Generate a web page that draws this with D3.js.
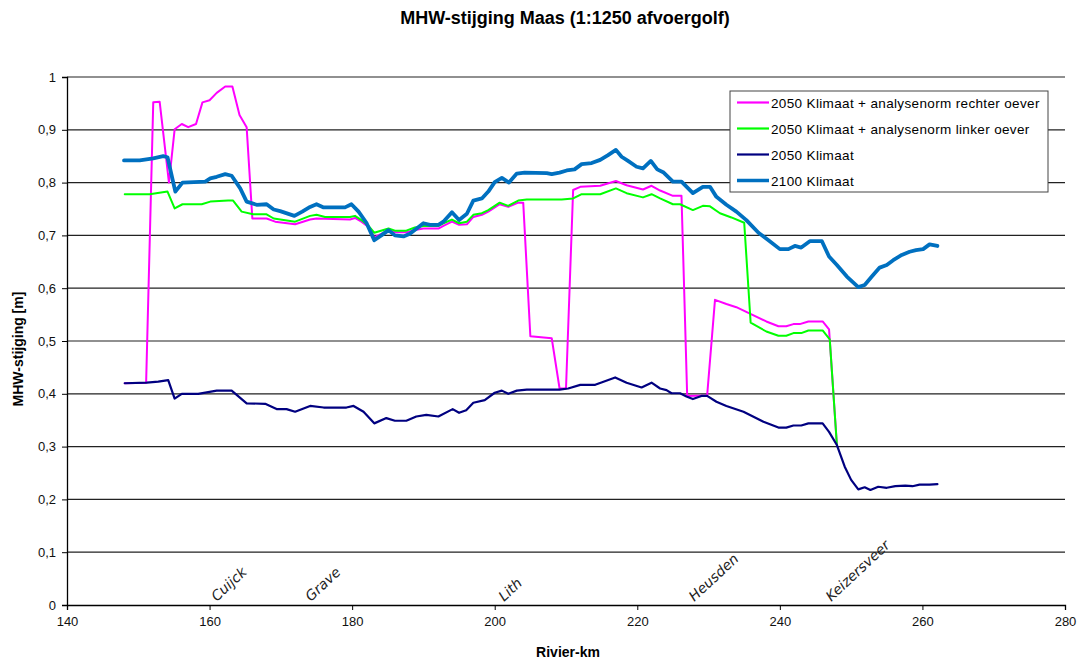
<!DOCTYPE html>
<html>
<head>
<meta charset="utf-8">
<script src="https://cdn.jsdelivr.net/npm/d3@7"></script>
<style>
  html, body { margin: 0; padding: 0; background: #fff; }
  svg { display: block; font-family: "Liberation Sans", Arial, sans-serif; }
</style>
</head>
<body>
<svg id="chart" width="1084" height="660"></svg>
<script>
// River kilometres and MHW rise (m) per scenario
const rechterKm = [148.1, 151.1, 152.1, 153.0, 154.3, 155.1, 156.1, 157.0, 158.1, 159.0, 160.0, 161.0, 162.2, 163.2, 164.2, 165.2, 166.0, 168.0, 169.2, 172.0, 174.1, 175.0, 179.7, 180.4, 181.3, 182.3, 183.1, 185.1, 186.0, 187.6, 188.8, 190.0, 192.1, 192.8, 194.0, 195.0, 196.1, 197.0, 198.2, 199.1, 200.7, 201.9, 203.3, 204.0, 205.0, 208.0, 209.1, 210.0, 211.0, 212.0, 214.8, 217.0, 218.5, 220.8, 222.0, 223.2, 225.0, 226.2, 227.0, 229.8, 230.9, 232.5, 233.9, 235.8, 238.1, 239.8, 240.9, 241.9, 242.8, 244.0, 246.0, 246.9, 248.0];
const rechterOever = [0.420, 0.421, 0.952, 0.953, 0.800, 0.901, 0.911, 0.905, 0.911, 0.952, 0.956, 0.970, 0.982, 0.982, 0.928, 0.905, 0.732, 0.732, 0.726, 0.721, 0.730, 0.732, 0.730, 0.733, 0.726, 0.716, 0.696, 0.710, 0.706, 0.706, 0.710, 0.713, 0.713, 0.718, 0.726, 0.720, 0.721, 0.735, 0.739, 0.745, 0.759, 0.754, 0.762, 0.762, 0.509, 0.505, 0.410, 0.410, 0.786, 0.792, 0.794, 0.803, 0.795, 0.787, 0.794, 0.785, 0.775, 0.775, 0.396, 0.397, 0.578, 0.570, 0.564, 0.552, 0.537, 0.528, 0.528, 0.532, 0.532, 0.537, 0.537, 0.522, 0.303];

const linkerKm = [148.1, 151.6, 154.1, 155.1, 156.2, 158.9, 160.1, 162.6, 163.3, 164.5, 166.1, 168.0, 169.0, 172.0, 174.1, 175.0, 176.2, 179.7, 180.4, 181.3, 182.3, 183.1, 185.1, 186.0, 187.6, 188.8, 190.0, 192.1, 192.8, 194.0, 195.0, 196.1, 197.0, 198.2, 199.1, 200.7, 201.9, 203.3, 204.5, 209.4, 211.0, 212.2, 214.8, 217.0, 218.5, 220.8, 222.0, 223.2, 225.0, 226.0, 227.8, 229.2, 230.2, 231.6, 233.2, 235.0, 235.9, 238.1, 239.8, 240.9, 241.9, 243.0, 244.0, 246.0, 247.0, 248.0];
const linkerOever = [0.778, 0.778, 0.783, 0.751, 0.759, 0.759, 0.764, 0.766, 0.766, 0.745, 0.740, 0.740, 0.732, 0.726, 0.737, 0.739, 0.735, 0.735, 0.737, 0.729, 0.718, 0.705, 0.713, 0.709, 0.709, 0.715, 0.718, 0.718, 0.723, 0.730, 0.723, 0.726, 0.739, 0.742, 0.748, 0.762, 0.756, 0.766, 0.768, 0.768, 0.770, 0.778, 0.778, 0.789, 0.780, 0.772, 0.778, 0.770, 0.759, 0.759, 0.748, 0.756, 0.755, 0.742, 0.734, 0.724, 0.535, 0.518, 0.510, 0.510, 0.515, 0.515, 0.520, 0.520, 0.503, 0.303];

const klimaat2050Km = [148.1, 151.2, 152.8, 154.2, 155.1, 156.1, 158.4, 161.0, 163.1, 165.2, 167.8, 169.4, 170.8, 172.0, 174.1, 176.0, 179.2, 180.2, 181.6, 183.1, 184.8, 186.0, 187.6, 189.0, 190.4, 192.1, 194.1, 195.0, 196.0, 197.0, 198.6, 200.0, 201.0, 201.9, 203.1, 204.5, 209.1, 210.3, 212.0, 214.1, 216.9, 218.5, 220.6, 222.0, 223.2, 224.1, 224.8, 226.0, 226.9, 227.8, 229.0, 229.8, 231.1, 232.5, 234.9, 237.7, 239.8, 240.9, 241.9, 243.0, 244.0, 246.0, 246.9, 248.0, 249.1, 250.0, 251.0, 251.9, 252.7, 253.8, 255.0, 256.2, 257.6, 258.6, 259.6, 261.0, 262.1];
const klimaat2050 = [0.420, 0.421, 0.423, 0.426, 0.391, 0.400, 0.400, 0.406, 0.406, 0.382, 0.381, 0.371, 0.371, 0.366, 0.377, 0.374, 0.374, 0.377, 0.366, 0.344, 0.354, 0.349, 0.349, 0.357, 0.360, 0.357, 0.371, 0.364, 0.369, 0.383, 0.388, 0.402, 0.406, 0.400, 0.406, 0.408, 0.408, 0.410, 0.417, 0.417, 0.431, 0.421, 0.412, 0.421, 0.410, 0.407, 0.401, 0.401, 0.395, 0.390, 0.396, 0.396, 0.385, 0.377, 0.366, 0.347, 0.336, 0.336, 0.340, 0.340, 0.344, 0.344, 0.328, 0.303, 0.262, 0.237, 0.219, 0.223, 0.218, 0.224, 0.222, 0.225, 0.226, 0.225, 0.228, 0.228, 0.229];

const klimaat2100Km = [148.0, 150.2, 152.1, 153.5, 154.1, 155.2, 156.2, 159.4, 160.1, 161.0, 162.2, 163.1, 164.3, 165.2, 166.6, 168.0, 169.0, 169.9, 171.9, 173.0, 174.1, 175.0, 176.0, 179.0, 179.9, 180.9, 182.0, 183.1, 184.1, 185.1, 186.0, 187.2, 188.1, 190.0, 190.9, 192.1, 192.8, 194.0, 195.0, 196.1, 197.0, 198.2, 199.1, 200.0, 201.0, 202.0, 203.1, 204.2, 207.3, 208.0, 209.1, 210.1, 211.2, 212.2, 213.6, 214.8, 215.9, 217.0, 217.8, 218.7, 219.9, 220.8, 221.9, 222.8, 223.7, 225.0, 226.2, 227.8, 229.2, 230.2, 231.1, 232.5, 233.9, 235.3, 237.0, 238.4, 240.0, 241.2, 242.1, 243.0, 244.2, 245.9, 246.9, 248.0, 249.4, 251.0, 251.9, 252.9, 254.0, 255.0, 255.9, 257.1, 258.2, 259.1, 260.1, 261.0, 262.1];
const klimaat2100 = [0.842, 0.842, 0.846, 0.850, 0.848, 0.783, 0.800, 0.802, 0.808, 0.811, 0.816, 0.813, 0.789, 0.764, 0.758, 0.759, 0.749, 0.746, 0.737, 0.745, 0.754, 0.759, 0.753, 0.753, 0.759, 0.745, 0.724, 0.691, 0.700, 0.710, 0.700, 0.698, 0.703, 0.723, 0.720, 0.720, 0.726, 0.744, 0.729, 0.741, 0.766, 0.770, 0.783, 0.801, 0.809, 0.800, 0.817, 0.819, 0.818, 0.816, 0.819, 0.823, 0.825, 0.835, 0.837, 0.843, 0.852, 0.862, 0.849, 0.841, 0.830, 0.827, 0.841, 0.825, 0.819, 0.802, 0.802, 0.780, 0.792, 0.792, 0.773, 0.758, 0.745, 0.729, 0.705, 0.691, 0.674, 0.674, 0.680, 0.677, 0.689, 0.689, 0.660, 0.644, 0.622, 0.602, 0.606, 0.622, 0.639, 0.644, 0.653, 0.663, 0.669, 0.672, 0.674, 0.683, 0.680];

const seriesNames = ["2050 Klimaat + analysenorm rechter oever", "2050 Klimaat + analysenorm linker oever", "2050 Klimaat", "2100 Klimaat"];
const seriesColors = ["#ff00ff", "#00ff00", "#000080", "#0070c0"];
const seriesWidths = [2, 2, 2.2, 3.8];

const xTicks = [140, 160, 180, 200, 220, 240, 260, 280];
const yTicks = [0, 0.1, 0.2, 0.3, 0.4, 0.5, 0.6, 0.7, 0.8, 0.9, 1];

const places = ["Cuijck", "Grave", "Lith", "Heusden", "Keizersveer"];
const placeKm = [161.0, 174.2, 201.3, 228.0, 247.2];

const W = 1084, H = 660;
const margin = { top: 77, right: 19, bottom: 55, left: 67 };
const svg = d3.select("#chart");

const x = d3.scaleLinear().domain([140, 280]).range([margin.left, W - margin.right]);
const y = d3.scaleLinear().domain([0, 1]).range([H - margin.bottom, margin.top]);
const fmt = v => String(+v.toFixed(1)).replace(".", ",");

// title
svg.append("text")
  .attr("x", 565).attr("y", 24)
  .attr("text-anchor", "middle")
  .attr("font-weight", "bold").attr("font-size", 18)
  .text("MHW-stijging Maas (1:1250 afvoergolf)");

// horizontal gridlines
svg.append("g")
  .selectAll("line")
  .data(yTicks.filter(d => d > 0))
  .join("line")
  .attr("x1", x(140)).attr("x2", x(280))
  .attr("y1", d => y(d)).attr("y2", d => y(d))
  .attr("stroke", "#222").attr("stroke-width", 1.2);

// y axis
const yAxis = svg.append("g")
  .attr("transform", `translate(${x(140)},0)`)
  .call(d3.axisLeft(y).tickValues(yTicks).tickFormat(fmt).tickSize(5).tickPadding(6));
yAxis.select(".domain").attr("stroke", "#000").attr("stroke-width", 1.3);
yAxis.selectAll(".tick line").attr("stroke", "#000");
yAxis.selectAll("text").attr("font-size", 13).attr("fill", "#111").attr("font-family", "Liberation Sans, Arial, sans-serif");

// x axis
const xAxis = svg.append("g")
  .attr("transform", `translate(0,${y(0)})`)
  .call(d3.axisBottom(x).tickValues(xTicks).tickFormat(d3.format("d")).tickSize(5).tickPadding(7));
xAxis.select(".domain").attr("stroke", "#000").attr("stroke-width", 1.3);
xAxis.selectAll(".tick line").attr("stroke", "#000");
xAxis.selectAll("text").attr("font-size", 13).attr("fill", "#111").attr("font-family", "Liberation Sans, Arial, sans-serif");

// axis titles
svg.append("text")
  .attr("x", 568).attr("y", 657)
  .attr("text-anchor", "middle")
  .attr("font-weight", "bold").attr("font-size", 14)
  .text("Rivier-km");
svg.append("text")
  .attr("transform", "translate(23,349) rotate(-90)")
  .attr("text-anchor", "middle")
  .attr("font-weight", "bold").attr("font-size", 14)
  .text("MHW-stijging [m]");

// place names along the river
svg.append("g")
  .selectAll("text")
  .data(places)
  .join("text")
  .attr("transform", (d, i) => `translate(${x(placeKm[i])},${y(0) - 3}) rotate(-43)`)
  .attr("font-size", 14).attr("fill", "#222")
  .attr("font-family", "DejaVu Sans, sans-serif")
  .attr("font-style", "italic")
  .text(d => d);

// series lines
const seriesData = [
  [rechterKm, rechterOever],
  [linkerKm, linkerOever],
  [klimaat2050Km, klimaat2050],
  [klimaat2100Km, klimaat2100]
];
const line = d3.line().x(d => x(d[0])).y(d => y(d[1]));
seriesData.forEach(([km, vals], i) => {
  svg.append("path")
    .datum(km.map((k, j) => [k, vals[j]]))
    .attr("fill", "none")
    .attr("stroke", seriesColors[i])
    .attr("stroke-width", seriesWidths[i])
    .attr("stroke-linejoin", "round")
    .attr("stroke-linecap", "round")
    .attr("d", line);
});

// legend
const lg = svg.append("g").attr("transform", "translate(730,91)");
lg.append("rect")
  .attr("width", 318).attr("height", 101)
  .attr("fill", "#fff").attr("stroke", "#444").attr("stroke-width", 1);
seriesNames.forEach((name, i) => {
  const cy = 11.5 + i * 26;
  lg.append("line")
    .attr("x1", 7).attr("x2", 39).attr("y1", cy).attr("y2", cy)
    .attr("stroke", seriesColors[i]).attr("stroke-width", i === 3 ? 3.5 : 2.2);
  lg.append("text")
    .attr("x", 41).attr("y", cy + 5)
    .attr("font-size", 13.5).attr("fill", "#000")
    .attr("letter-spacing", 0.35)
    .text(name);
});
</script>
</body>
</html>
